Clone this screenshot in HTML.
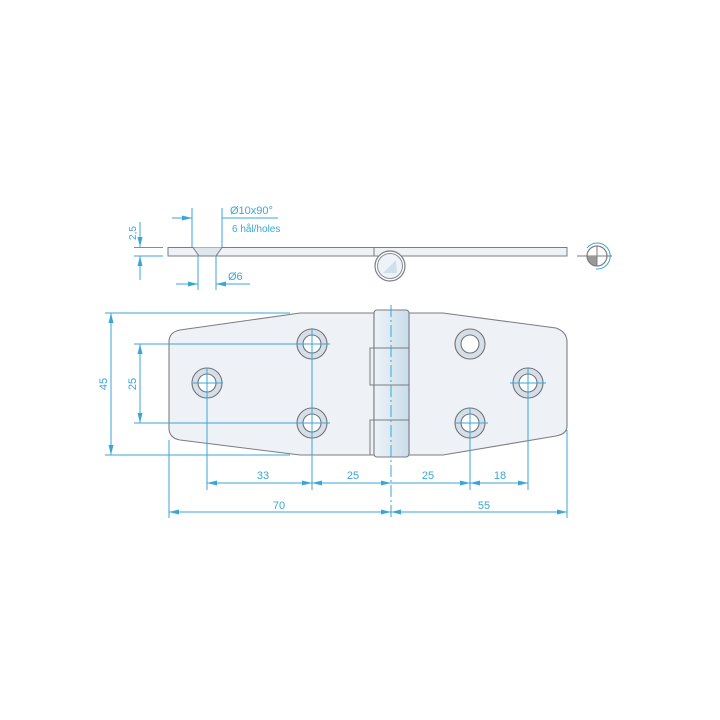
<!DOCTYPE html>
<html><head><meta charset="utf-8"><style>html,body{margin:0;padding:0;background:#fff}svg{display:block}</style></head>
<body>
<svg width="720" height="720" viewBox="0 0 720 720" xmlns="http://www.w3.org/2000/svg" font-family="Liberation Sans, sans-serif">
<defs>
<marker id="a" viewBox="0 0 10 6" refX="10" refY="3" markerWidth="10" markerHeight="6" orient="auto-start-reverse" markerUnits="userSpaceOnUse"><path d="M0,0.5L10,3L0,5.5z" fill="#3aa6d8"/></marker>
<linearGradient id="kn" x1="0" x2="1"><stop offset="0" stop-color="#eef3f8"/><stop offset="1" stop-color="#c9dcea"/></linearGradient>
</defs>
<!-- top view plate -->
<rect x="168" y="247.5" width="399" height="8.5" fill="#eef1f5" stroke="#7a7d82" stroke-width="1"/>
<path d="M193,247.5 L199,256 L216,256 L222,247.5" fill="#dfe6ee" stroke="#7a7d82"/>
<line x1="374" y1="247.5" x2="374" y2="256" stroke="#7a7d82"/>
<circle cx="390" cy="266" r="15" fill="#fff" stroke="#7a7d82" stroke-width="1.2"/>
<circle cx="390" cy="266" r="12.5" fill="#eef3f8" stroke="#8a8d92" stroke-width="1"/>
<path d="M383,273 L396,260 L397,273 Z" fill="#cfe0ec"/>
<!-- rotation symbol -->
<path d="M587,248 A13,13 0 1 1 596,269" fill="none" stroke="#3aa6d8" stroke-width="1"/>
<line x1="577" y1="256" x2="612" y2="256" stroke="#7a7d82"/>
<path d="M587,256 A10,10 0 0 0 597,266 L597,256Z" fill="#999"/>
<circle cx="597" cy="256" r="10" fill="none" stroke="#7a7d82" stroke-width="1.2"/>
<line x1="597" y1="246" x2="597" y2="266" stroke="#7a7d82"/>
<!-- front view leaves -->
<path d="M300,313 L374,313 L374,455 L300,455 L180,440 Q169,438 169,428 L169,342 Q169,332 180,330 Z" fill="#eef1f5" stroke="#7a7d82" stroke-width="1.1"/>
<path d="M409,313 L443,313 L556,328 Q567,332 567,342 L567,426 Q567,434 556,436 L443,455 L409,455 Z" fill="#eef1f5" stroke="#7a7d82" stroke-width="1.1"/>
<rect x="370" y="348" width="5" height="37" fill="#eef1f5" stroke="#7a7d82"/>
<rect x="370" y="420" width="5" height="35" fill="#eef1f5" stroke="#7a7d82"/>
<rect x="374" y="310" width="35" height="147" rx="3" fill="url(#kn)" stroke="#7a7d82" stroke-width="1.1"/>
<line x1="374" y1="348" x2="409" y2="348" stroke="#7a7d82"/>
<line x1="374" y1="385" x2="409" y2="385" stroke="#7a7d82"/>
<line x1="374" y1="420" x2="409" y2="420" stroke="#7a7d82"/>
<!-- holes -->
<g stroke="#6f7378" stroke-width="1.1">
<circle cx="207" cy="383" r="15" fill="#d6dfe8"/><circle cx="207" cy="383" r="9" fill="#fff"/>
<circle cx="312" cy="344" r="15" fill="#d6dfe8"/><circle cx="312" cy="344" r="9" fill="#fff"/>
<circle cx="312" cy="423" r="15" fill="#d6dfe8"/><circle cx="312" cy="423" r="9" fill="#fff"/>
<circle cx="470" cy="344" r="15" fill="#d6dfe8"/><circle cx="470" cy="344" r="9" fill="#fff"/>
<circle cx="470" cy="423" r="15" fill="#d6dfe8"/><circle cx="470" cy="423" r="9" fill="#fff"/>
<circle cx="528" cy="383" r="15" fill="#d6dfe8"/><circle cx="528" cy="383" r="9" fill="#fff"/>
</g>
<g stroke="#3aa6d8" stroke-width="1" fill="none">
<!-- top view dims -->
<line x1="140" y1="222" x2="140" y2="247" marker-end="url(#a)"/>
<line x1="140" y1="280" x2="140" y2="256" marker-end="url(#a)"/>
<line x1="134" y1="247.5" x2="163" y2="247.5"/>
<line x1="134" y1="256" x2="163" y2="256"/>
<line x1="192" y1="208" x2="192" y2="247"/>
<line x1="222" y1="208" x2="222" y2="247"/>
<line x1="172" y1="218" x2="192" y2="218" marker-end="url(#a)"/>
<line x1="222" y1="218" x2="278" y2="218"/>
<line x1="198" y1="256" x2="198" y2="290"/>
<line x1="216" y1="256" x2="216" y2="290"/>
<line x1="176" y1="284" x2="198" y2="284" marker-end="url(#a)"/>
<line x1="250" y1="284" x2="216" y2="284" marker-end="url(#a)"/>
<!-- left dims -->
<line x1="105" y1="313" x2="290" y2="313"/>
<line x1="105" y1="455" x2="290" y2="455"/>
<line x1="111" y1="330" x2="111" y2="313" marker-end="url(#a)"/>
<line x1="111" y1="440" x2="111" y2="455" marker-end="url(#a)"/>
<line x1="111" y1="330" x2="111" y2="440"/>
<line x1="134" y1="344" x2="330" y2="344"/>
<line x1="134" y1="423" x2="330" y2="423"/>
<line x1="140" y1="344" x2="140" y2="423" marker-start="url(#a)" marker-end="url(#a)"/>
<!-- extension lines -->
<line x1="169" y1="440" x2="169" y2="518"/>
<line x1="567" y1="430" x2="567" y2="518"/>
<line x1="207" y1="368" x2="207" y2="490"/>
<line x1="312" y1="328" x2="312" y2="490"/>
<line x1="470" y1="408" x2="470" y2="490"/>
<line x1="528" y1="368" x2="528" y2="490"/>
<line x1="391" y1="305" x2="391" y2="520" stroke-dasharray="12,3,2,3"/>
<line x1="193" y1="383" x2="223" y2="383"/>
<line x1="455" y1="423" x2="488" y2="423"/>
<line x1="510" y1="383" x2="546" y2="383"/>
<line x1="297" y1="423" x2="330" y2="423"/>
<!-- bottom dims -->
<line x1="207" y1="483" x2="312" y2="483" marker-start="url(#a)" marker-end="url(#a)"/>
<line x1="312" y1="483" x2="391" y2="483" marker-start="url(#a)" marker-end="url(#a)"/>
<line x1="391" y1="483" x2="470" y2="483" marker-end="url(#a)"/>
<line x1="470" y1="483" x2="528" y2="483" marker-start="url(#a)" marker-end="url(#a)"/>
<line x1="169" y1="512" x2="391" y2="512" marker-start="url(#a)" marker-end="url(#a)"/>
<line x1="391" y1="512" x2="567" y2="512" marker-start="url(#a)" marker-end="url(#a)"/>
</g>
<!-- labels -->
<g fill="#3aa6d8" font-size="11">
<text x="230" y="214">Ø10x90°</text>
<text x="232" y="232" font-size="10">6 hål/holes</text>
<text x="228" y="280">Ø6</text>
<text transform="translate(136,233) rotate(-90)" text-anchor="middle" font-size="10">2,5</text>
<text transform="translate(107,384) rotate(-90)" text-anchor="middle">45</text>
<text transform="translate(136,384) rotate(-90)" text-anchor="middle">25</text>
<text x="263" y="479" text-anchor="middle">33</text>
<text x="353" y="479" text-anchor="middle">25</text>
<text x="428" y="479" text-anchor="middle">25</text>
<text x="500" y="479" text-anchor="middle">18</text>
<text x="279" y="509" text-anchor="middle">70</text>
<text x="484" y="509" text-anchor="middle">55</text>
</g>
</svg>
</body></html>
